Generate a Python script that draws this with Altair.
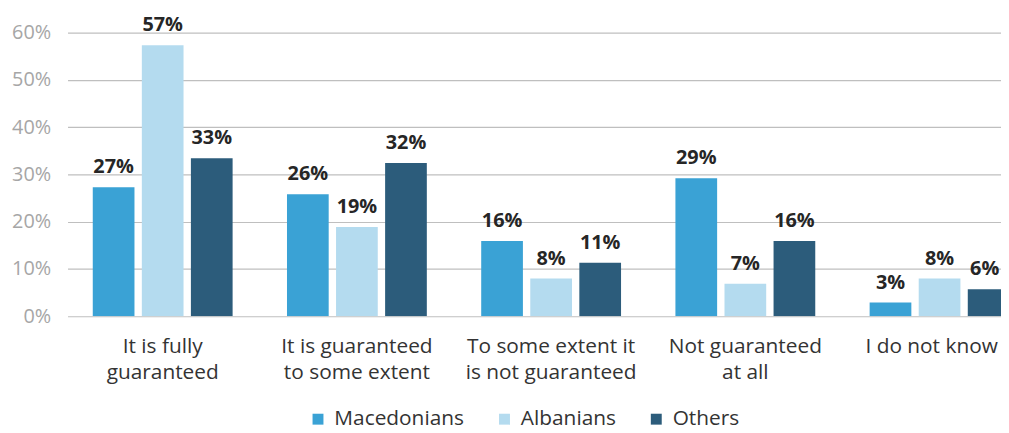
import altair as alt
import pandas as pd

categories = [
    "It is fully\nguaranteed",
    "It is guaranteed\nto some extent",
    "To some extent it\nis not guaranteed",
    "Not guaranteed\nat all",
    "I do not know",
]
groups = ["Macedonians", "Albanians", "Others"]
macedonians = [27.3, 25.8, 15.9, 29.2, 2.9]
albanians = [57.3, 18.9, 8.0, 6.9, 8.0]
others = [33.4, 32.4, 11.3, 15.9, 5.7]
colors = ["#3aa2d5", "#b4dbef", "#2c5c7b"]
y_ticks = [0, 10, 20, 30, 40, 50, 60]

rows = []
for g, series in zip(groups, [macedonians, albanians, others]):
    for c, v in zip(categories, series):
        rows.append({"category": c, "group": g, "value": v})
df = pd.DataFrame(rows)

FONT = "Open Sans"

x = alt.X(
    "category:N",
    sort=categories,
    scale=alt.Scale(range=[0, 975], paddingInner=0.28, paddingOuter=0.13),
    axis=alt.Axis(
        title=None,
        labelAngle=0,
        labelExpr="split(datum.label, '\\n')",
        labelFontSize=21,
        labelColor="#333333",
        labelFont=FONT,
        labelPadding=20,
        labelLineHeight=26,
        labelOffset={"condition": {"test": "datum.value === 'I do not know'", "value": -8}, "value": 0},
        ticks=False,
        domain=False,
        grid=False,
        labelBaseline="top",
    ),
)
xoff = alt.XOffset("group:N", sort=groups, scale=alt.Scale(paddingInner=0.15))
y = alt.Y(
    "value:Q",
    scale=alt.Scale(domain=[0, 60], nice=False),
    axis=alt.Axis(
        title=None,
        values=y_ticks,
        labelExpr="datum.value + '%'",
        labelFontSize=20,
        labelColor="#a6a6a6",
        labelFont=FONT,
        labelPadding=17,
        ticks=False,
        domain=False,
        gridColor="#bfbfbf",
        gridWidth=1.2,
    ),
)

bars = alt.Chart(df).mark_bar(clip=True).encode(
    x=x,
    xOffset=xoff,
    y=y,
    color=alt.Color(
        "group:N",
        sort=groups,
        scale=alt.Scale(domain=groups, range=colors),
        legend=alt.Legend(
            title=None,
            orient="none",
            direction="horizontal",
            legendX=242,
            legendY=379,
            symbolType="square",
            symbolSize=121,
            symbolStrokeWidth=0,
            labelFontSize=21,
            labelFont=FONT,
            labelColor="#333333",
            labelOffset=6,
            columnPadding=30,
            symbolOffset=0,
        ),
    ),
)

labels = alt.Chart(df).transform_calculate(
    label="format(datum.value, '.0f') + '%'"
).mark_text(
    baseline="alphabetic",
    dy=-14,
    dx=alt.ExprRef("datum.category === 'I do not know' && datum.group === 'Others' ? -4 : 0"),
    fontSize=20,
    fontWeight="bold",
    font=FONT,
    color="#262626",
).encode(
    x=x,
    xOffset=xoff,
    y="value:Q",
    text="label:N",
)

chart = (
    alt.layer(bars, labels)
    .properties(
        width=941,
        height=286,
        padding={"left": 60, "top": 23, "right": 0, "bottom": 124},
        autosize=alt.AutoSizeParams(type="none"),
    )
    .configure_view(stroke=None)
)

chart.save("out.html", embed_options={"renderer": "svg", "actions": False})
